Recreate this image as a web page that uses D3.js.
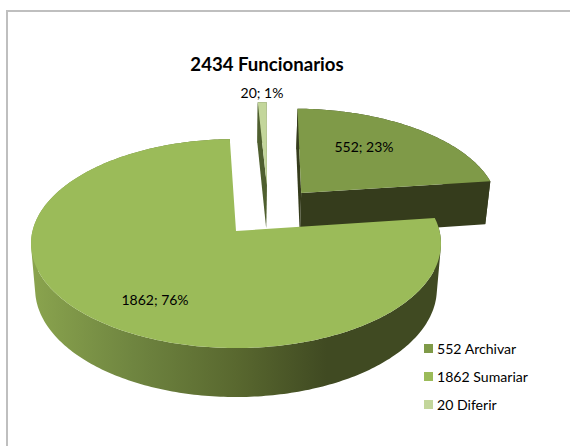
<!DOCTYPE html>
<html><head><meta charset="utf-8">
<style>html,body{margin:0;padding:0;background:#fff}svg{display:block}</style>
<script src="https://cdn.jsdelivr.net/npm/d3@7/dist/d3.min.js"></script>
</head><body><svg id="c" width="570" height="446"></svg>
<script>
const titleText = "2434 Funcionarios";
const names = ["Archivar", "Sumariar", "Diferir"];
const values = [552, 1862, 20];
const percents = [23, 76, 1];
const colors = ["#7f9a48", "#9bbb59", "#c3d69b"];
const wallColors = ["#353c1c", "#404a22", "#4f5f2f"];
const explodeX = [0.335, 0, 0.16];
const explodeY = [0.385, 0, 0.47];
const labelPos = [[364,152],[155,305],[262,98]];
const drawOrder = [0, 2, 1];

const font = "Lato, 'Open Sans', sans-serif";
const svg = d3.select("#c");
const defs = svg.append("defs");
const g = defs.append("linearGradient").attr("id","wall").attr("gradientUnits","userSpaceOnUse")
  .attr("x1",31).attr("x2",441).attr("y1",0).attr("y2",0);
[[0,"#8aa44e"],[0.25,"#6f8540"],[0.5,"#59682f"],[0.72,"#404a22"],[1,"#404a22"]]
  .forEach(s=>g.append("stop").attr("offset",s[0]).attr("stop-color",s[1]));

// chart frame
svg.append("path").attr("d","M7,446V11H570").attr("fill","none").attr("stroke","#bfbfbf").attr("stroke-width",2);

// perspective projection of the pie plane
const cx=236, cy=231, a=203.5, b=103, k=0.12, sx=0.98, sy=1.035, dy=36.8;
const rot = 1*Math.PI/180;
function proj(X,Y){const w=1+k*Y; return [cx+a*X/w, cy-b*Y/w];}
function low(p){return [cx+(p[0]-cx)*sx, p[1]*sy+dy];}
const pie = d3.pie().sort(null).startAngle(rot).endAngle(rot+2*Math.PI)(values);
const line = d3.line();

function rim(i,n){
  const s=pie[i].startAngle,e=pie[i].endAngle;
  return d3.range(n+1).map(j=>{
    const t=s+(e-s)*j/n;
    return proj(explodeX[i]+Math.sin(t),explodeY[i]+Math.cos(t));
  });
}
function quad(d){
  const q=[d[0],d[1],low(d[1]),low(d[0])];
  return d3.polygonArea(q)<0 ? q.reverse() : q;
}
drawOrder.forEach(i=>{
  const n=Math.max(8,Math.round((pie[i].endAngle-pie[i].startAngle)*60));
  const r=rim(i,n), apex=proj(explodeX[i],explodeY[i]);
  const wallFill = i===1 ? "url(#wall)" : wallColors[i];
  // outer wall: rim quads in one path, same winding, so the fill is their union
  svg.append("path").attr("d",d3.pairs(r).map(d=>line(quad(d))+"Z").join(""))
    .attr("fill",wallFill).attr("fill-rule","nonzero");
  if(i!==1){
    // radial walls
    const f=r[0], l=r[r.length-1];
    svg.append("path").attr("d",line([apex,f,low(f),low(apex)])+"Z").attr("fill",wallFill);
    svg.append("path").attr("d",line([apex,l,low(l),low(apex)])+"Z").attr("fill",wallFill);
  }
  // top face
  svg.append("path").attr("d",line([apex].concat(r))+"Z").attr("fill",colors[i]);
});

// data labels
values.forEach((v,i)=>{
  svg.append("text").attr("x",labelPos[i][0]).attr("y",labelPos[i][1]).attr("text-anchor","middle")
    .attr("font-family",font).attr("font-size",14).attr("fill","#000").text(v+"; "+percents[i]+"%");
});
// title
svg.append("text").attr("x",267).attr("y",71).attr("text-anchor","middle")
  .attr("font-family",font).attr("font-weight","bold").attr("font-size",18.6).attr("fill","#000").text(titleText);
// legend
const ly=d3.scalePoint().domain(d3.range(values.length)).range([344,400]);
values.forEach((v,i)=>{
  svg.append("rect").attr("x",424).attr("y",ly(i)).attr("width",9).attr("height",9).attr("fill",colors[i]);
  svg.append("text").attr("x",437).attr("y",ly(i)+9.5).attr("font-family",font).attr("font-size",14.1)
    .attr("fill","#000").text(v+" "+names[i]);
});
</script></body></html>
